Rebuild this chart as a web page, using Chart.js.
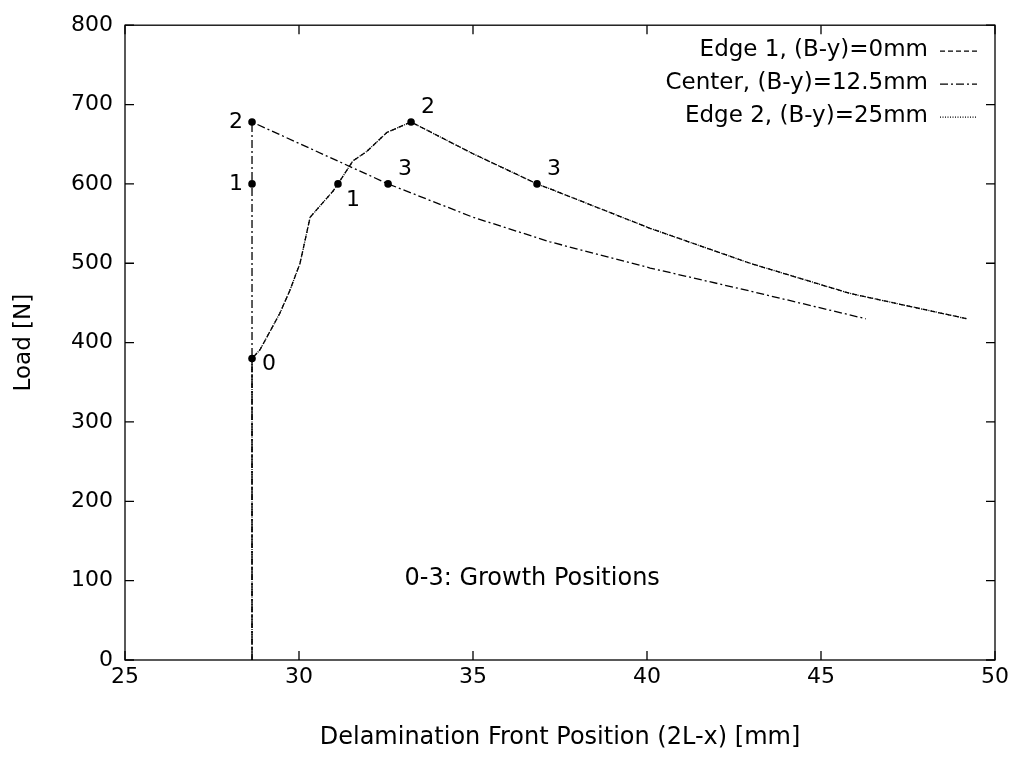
<!DOCTYPE html>
<html><head><meta charset="utf-8">
<script src="https://cdn.jsdelivr.net/npm/chart.js@4/dist/chart.umd.min.js"></script>
<style>html,body{margin:0;padding:0;background:#fff}#wrap{width:1020px;height:758px}</style>
</head><body><div id="wrap"><canvas id="c" width="1020" height="758"></canvas></div>
<script>
const edge1X = [28.65, 28.65, 28.88, 29.45, 29.74, 30.03, 30.32, 30.98, 31.12, 31.55, 31.95, 32.53, 33.22, 35.0, 36.84, 37.2, 40.09, 42.96, 45.83, 49.2];
const edge1Y = [0, 380, 391, 437, 466, 500, 558, 591, 600, 629, 641, 665, 678, 638, 600, 594, 544, 500, 462, 430];
const centerX = [28.65, 28.65, 32.56, 35.0, 37.21, 40.09, 42.96, 46.29];
const centerY = [0, 678, 600, 558, 527, 494, 465, 430];
const edge2X = edge1X.slice();
const edge2Y = edge1Y.slice();
const growthX = [28.65, 28.65, 28.65, 31.12, 33.22, 32.56, 36.84];
const growthY = [380, 600, 678, 600, 678, 600, 600];
const growthLabels = ["0", "1", "2", "1", "2", "3", "3"];
const growthSide = ["r", "l", "l", "rb", "ra", "ra", "ra"];
const seriesNames = ["Edge 1, (B-y)=0mm", "Center, (B-y)=12.5mm", "Edge 2, (B-y)=25mm"];
const xTitle = "Delamination Front Position (2L-x) [mm]";
const yTitle = "Load [N]";
const note = "0-3: Growth Positions";

const FONT = "'DejaVu Sans', sans-serif";
const dashes = [[5,3],[8,3,2,3],[1,1.5]];
function pts(xs, ys){ return xs.map((x,i)=>({x:x,y:ys[i]})); }

const framePlugin = {
  id:'frame',
  afterDraw(chart){
    const ctx = chart.ctx, a = chart.chartArea, xs = chart.scales.x, ys = chart.scales.y;
    ctx.save();
    ctx.strokeStyle = '#000'; ctx.lineWidth = 1.3;
    ctx.strokeRect(a.left, a.top, a.right-a.left, a.bottom-a.top);
    const L = 9;
    ctx.beginPath();
    xs.ticks.forEach(t=>{ const p = xs.getPixelForValue(t.value);
      ctx.moveTo(p, a.bottom); ctx.lineTo(p, a.bottom-L);
      ctx.moveTo(p, a.top); ctx.lineTo(p, a.top+L); });
    ys.ticks.forEach(t=>{ const p = ys.getPixelForValue(t.value);
      ctx.moveTo(a.left, p); ctx.lineTo(a.left+L, p);
      ctx.moveTo(a.right, p); ctx.lineTo(a.right-L, p); });
    ctx.stroke();
    // legend
    ctx.font = '23px ' + FONT; ctx.fillStyle = '#000';
    ctx.textAlign = 'right'; ctx.textBaseline = 'middle';
    seriesNames.forEach((n,i)=>{
      const y = a.top + 25 + i*33;
      ctx.fillText(n, a.right - 67, y);
      ctx.save(); ctx.setLineDash(dashes[i]); ctx.lineWidth = 1.2;
      ctx.beginPath(); ctx.moveTo(a.right-55, y+1); ctx.lineTo(a.right-18, y+1); ctx.stroke(); ctx.restore();
    });
    // point labels
    const meta = chart.getDatasetMeta(3);
    ctx.font = '22px ' + FONT;
    meta.data.forEach((el,i)=>{
      const s = growthSide[i]; let dx=0, dy=0, al='left';
      if(s==='r'){dx=10; dy=6;}
      else if(s==='l'){dx=-9; dy=0; al='right';}
      else if(s==='rb'){dx=8; dy=16;}
      else if(s==='ra'){dx=10; dy=-15;}
      ctx.textAlign = al; ctx.fillText(growthLabels[i], el.x+dx, el.y+dy);
    });
    ctx.textAlign = 'center';
    ctx.font = '24px ' + FONT;
    ctx.fillText(note, xs.getPixelForValue(36.7), ys.getPixelForValue(100) - 2);
    ctx.restore();
  }
};

new Chart(document.getElementById('c'), {
  type:'scatter',
  data:{ datasets:[
    {label:seriesNames[0], data:pts(edge1X,edge1Y), showLine:true, borderColor:'#000', borderWidth:1.3, borderDash:dashes[0], pointRadius:0, fill:false},
    {label:seriesNames[1], data:pts(centerX,centerY), showLine:true, borderColor:'#000', borderWidth:1.3, borderDash:dashes[1], pointRadius:0, fill:false},
    {label:seriesNames[2], data:pts(edge2X,edge2Y), showLine:true, borderColor:'#000', borderWidth:1.3, borderDash:dashes[2], pointRadius:0, fill:false},
    {label:'growth', data:pts(growthX,growthY), showLine:false, pointRadius:3.8, pointBackgroundColor:'#000', pointBorderColor:'#000', pointBorderWidth:0}
  ]},
  plugins:[framePlugin],
  options:{
    responsive:false, animation:false, devicePixelRatio:1,
    layout:{padding:{top:20, right:25, left:0, bottom:0}},
    plugins:{legend:{display:false}, tooltip:{enabled:false}},
    scales:{
      x:{type:'linear', min:25, max:50, border:{display:false},
        grid:{display:false, drawTicks:false},
        ticks:{stepSize:5, color:'#000', font:{family:FONT, size:22}, padding:4, maxRotation:0},
        title:{display:true, text:xTitle, color:'#000', font:{family:FONT, size:24}, padding:{top:0, bottom:6}},
        afterFit(s){ s.height = 98; }
      },
      y:{type:'linear', min:0, max:800, border:{display:false},
        grid:{display:false, drawTicks:false},
        ticks:{stepSize:100, color:'#000', font:{family:FONT, size:22}, padding:12},
        title:{display:true, text:yTitle, color:'#000', font:{family:FONT, size:23}, padding:{top:10, bottom:0}},
        afterFit(s){ s.width = 125; }
      }
    }
  }
});
</script></body></html>
